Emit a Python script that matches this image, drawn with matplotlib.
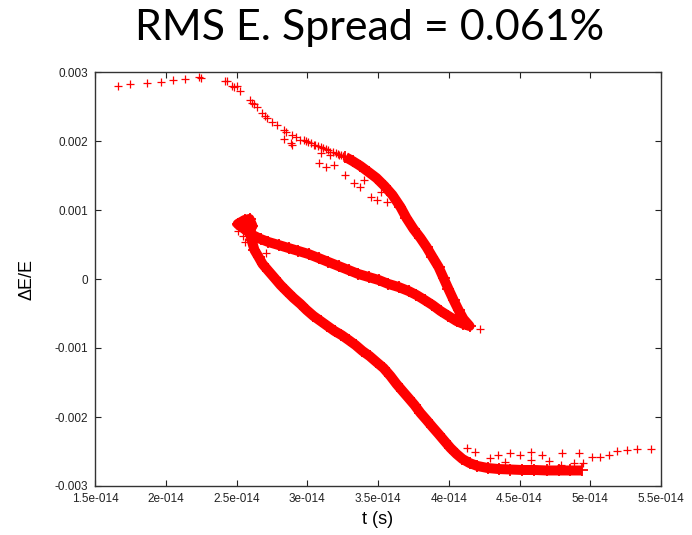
import numpy as np
import matplotlib
matplotlib.use("Agg")
import matplotlib.pyplot as plt
from matplotlib.ticker import FuncFormatter

# values: t in units of 1e-14 s, dE/E in units of 1e-3
# dense band, in order along the folded curve (upper arm -> tip -> middle arm -> blob -> lower arm)
core_t = [3.270, 3.320, 3.376, 3.433, 3.489, 3.546, 3.602, 3.659, 3.701, 3.751,
          3.800, 3.843, 3.885, 3.928, 3.963, 3.998, 4.034, 4.069, 4.104, 4.147,
          4.104, 4.055, 3.998, 3.942, 3.885, 3.829, 3.772, 3.716, 3.645, 3.574,
          3.504, 3.433, 3.362, 3.292, 3.221, 3.150, 3.080, 3.009, 2.938, 2.868,
          2.797, 2.726, 2.670, 2.613, 2.564, 2.528, 2.508, 2.557, 2.592, 2.613,
          2.592, 2.606, 2.627,
          2.656, 2.684, 2.726, 2.769, 2.811, 2.853, 2.903, 2.952, 2.995, 3.044,
          3.094, 3.143, 3.193, 3.242, 3.292, 3.341, 3.390, 3.440, 3.489, 3.539,
          3.588, 3.631, 3.673, 3.716, 3.758, 3.800, 3.843, 3.885, 3.928, 3.970,
          4.012, 4.055, 4.097, 4.147, 4.203, 4.274, 4.352, 4.436, 4.521, 4.606,
          4.691, 4.776, 4.860, 4.945]
core_de = [1.768, 1.710, 1.638, 1.551, 1.464, 1.348, 1.217, 1.043, 0.884, 0.725,
           0.594, 0.464, 0.319, 0.174, 0.014, -0.145, -0.304, -0.449, -0.580, -0.681,
           -0.652, -0.609, -0.536, -0.464, -0.377, -0.304, -0.232, -0.174, -0.116, -0.072,
           -0.014, 0.029, 0.072, 0.130, 0.188, 0.246, 0.304, 0.362, 0.406, 0.449,
           0.493, 0.536, 0.580, 0.638, 0.710, 0.768, 0.797, 0.855, 0.870, 0.768,
           0.710, 0.565, 0.420,
           0.319, 0.217, 0.116, 0.014, -0.087, -0.174, -0.275, -0.362, -0.449, -0.536,
           -0.609, -0.681, -0.754, -0.812, -0.884, -0.957, -1.043, -1.116, -1.203, -1.290,
           -1.406, -1.522, -1.623, -1.725, -1.826, -1.942, -2.043, -2.145, -2.246, -2.348,
           -2.449, -2.536, -2.609, -2.667, -2.710, -2.739, -2.754, -2.761, -2.768, -2.768,
           -2.775, -2.775, -2.775, -2.775]

# sparse particles (head, scattered ones and tail)
halo_t = [1.661, 1.749, 1.864, 1.963, 2.053, 2.133, 2.234, 2.246,
          2.417, 2.434, 2.470, 2.479, 2.500, 2.528, 2.594, 2.611, 2.627, 2.646,
          2.682, 2.698, 2.717, 2.752, 2.788, 2.834, 2.853, 2.894, 2.917, 2.952,
          2.988, 3.023, 3.058, 3.094, 3.129, 3.164, 3.200, 3.235,
          2.839, 2.882, 2.894, 2.976, 3.046, 3.094, 3.082, 3.129, 3.188, 3.164,
          3.223, 3.270, 3.329, 3.376, 3.400, 3.447, 3.494, 3.518, 3.565,
          3.005, 3.075, 3.110, 3.146, 3.182, 3.217, 3.250,
          4.224, 2.705, 2.495, 2.510, 2.545, 2.560,
          4.130, 4.189, 4.295, 4.345, 4.436, 4.507, 4.578, 4.660, 4.802, 4.919,
          4.882, 4.952, 4.705, 4.578, 4.401, 4.790,
          5.014, 5.072, 5.131, 5.191, 5.261, 5.332, 5.426]
halo_de = [2.801, 2.822, 2.836, 2.851, 2.880, 2.899, 2.923, 2.909,
           2.874, 2.865, 2.801, 2.783, 2.797, 2.729, 2.594, 2.546, 2.536, 2.497,
           2.401, 2.362, 2.329, 2.280, 2.232, 2.159, 2.130, 2.087, 2.058, 2.014,
           2.000, 1.967, 1.942, 1.909, 1.884, 1.845, 1.826, 1.797,
           2.029, 1.971, 1.942, 2.014, 1.942, 1.822, 1.677, 1.628, 1.652, 1.797,
           1.797, 1.507, 1.387, 1.338, 1.435, 1.193, 1.145, 1.265, 1.120,
           1.985, 1.925, 1.895, 1.870, 1.835, 1.810, 1.785,
           -0.725, 0.377, 0.780, 0.700, 0.620, 0.540,
           -2.454, -2.507, -2.599, -2.551, -2.526, -2.551, -2.503, -2.551, -2.526, -2.526,
           -2.667, -2.667, -2.638, -2.623, -2.652, -2.696,
           -2.584, -2.575, -2.551, -2.488, -2.478, -2.468, -2.468]

x_ticks = [1.5, 2.0, 2.5, 3.0, 3.5, 4.0, 4.5, 5.0, 5.5]
y_ticks = [-3, -2, -1, 0, 1, 2, 3]

title = "RMS E. Spread = 0.061%"
red = "#ff0000"

fig = plt.figure(figsize=(6.92, 5.35), dpi=100)
ax = fig.add_axes([95 / 692, 1 - 486 / 535, 566 / 692, 414 / 535])

t_c = np.array(core_t) * 1e-14
de_c = np.array(core_de) * 1e-3
t_h = np.array(halo_t) * 1e-14
de_h = np.array(halo_de) * 1e-3

ax.plot(t_c, de_c, color=red, lw=7.2, solid_joinstyle="round", solid_capstyle="butt")
ax.plot(t_c, de_c, ls="none", marker="+", ms=9, mew=1.3, color=red)
ax.plot(t_h, de_h, ls="none", marker="+", ms=5.2, mew=0.9, color=red)

ax.set_xlim(1.5e-14, 5.5e-14)
ax.set_ylim(-0.003, 0.003)
ax.set_xticks(np.array(x_ticks) * 1e-14)
ax.set_yticks(np.array(y_ticks) * 1e-3)


def gp_sci(v, pos):
    # gnuplot style exponent, e.g. 1.5e-014
    s = "%.2g" % v
    return s.replace("e-", "e-0")


ax.xaxis.set_major_formatter(FuncFormatter(gp_sci))
ax.yaxis.set_major_formatter(FuncFormatter(lambda v, p: "%g" % round(v, 6)))

ax.tick_params(direction="in", top=True, right=True, length=4, width=0.8,
               labelsize=8.5, colors="#222222", pad=5)
for lab in ax.get_xticklabels() + ax.get_yticklabels():
    lab.set_family("Liberation Sans")
for sp in ax.spines.values():
    sp.set_linewidth(1.0)
    sp.set_color("#333333")

fig.text(370 / 692, 1 - 28 / 535, title, ha="center", va="center",
         fontsize=31, family="Lato")
fig.text(27 / 692, 1 - 279 / 535, "ΔE/E", rotation=90, ha="center", va="center",
         fontsize=13, family="Liberation Sans")
fig.text(378 / 692, 1 - 520 / 535, "t (s)", ha="center", va="center",
         fontsize=13, family="Liberation Sans")

fig.savefig("out.png", dpi=100)
